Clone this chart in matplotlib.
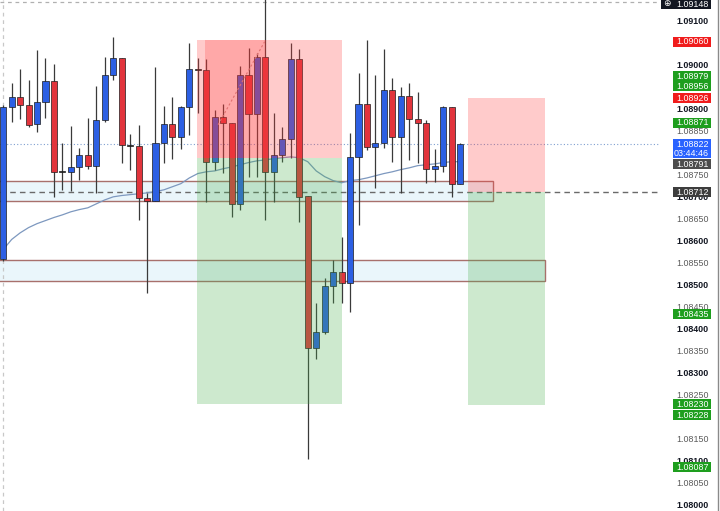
import matplotlib
matplotlib.use("Agg")
import matplotlib.pyplot as plt
from matplotlib.patches import Rectangle
from matplotlib.lines import Line2D

# ---------------- data ----------------
opens = [1.08561, 1.08907, 1.08930, 1.08911, 1.08868, 1.08918, 1.08966, 1.08760, 1.08759, 1.08770,
         1.08798, 1.08773, 1.08877, 1.08980, 1.09018, 1.08819, 1.08818, 1.08700, 1.08693, 1.08825,
         1.08868, 1.08839, 1.08907, 1.08992, 1.08991, 1.08782, 1.08884, 1.08870, 1.08686, 1.08980,
         1.08891, 1.09020, 1.08759, 1.08798, 1.08834, 1.09016, 1.08705, 1.08359, 1.08395, 1.08498,
         1.08530, 1.08507, 1.08793, 1.08914, 1.08816, 1.08825, 1.08945, 1.08839, 1.08932, 1.08880,
         1.08870, 1.08766, 1.08773, 1.08907, 1.08732]
highs = [1.08911, 1.08961, 1.08993, 1.08968, 1.09036, 1.09018, 1.09005, 1.08825, 1.08864, 1.08814,
         1.08882, 1.08955, 1.09020, 1.09066, 1.09018, 1.08845, 1.08866, 1.08711, 1.08998, 1.08909,
         1.08930, 1.08909, 1.09052, 1.09018, 1.09016, 1.08900, 1.08914, 1.08870, 1.09000, 1.09041,
         1.09030, 1.09173, 1.08893, 1.08861, 1.09052, 1.09039, 1.08705, 1.08461, 1.08518, 1.08559,
         1.08611, 1.08848, 1.08984, 1.09059, 1.08980, 1.09039, 1.08973, 1.08952, 1.08961, 1.08941,
         1.08877, 1.08811, 1.08909, 1.08907, 1.08825]
lows = [1.08555, 1.08873, 1.08880, 1.08861, 1.08850, 1.08882, 1.08702, 1.08718, 1.08716, 1.08741,
        1.08766, 1.08711, 1.08873, 1.08968, 1.08780, 1.08764, 1.08650, 1.08484, 1.08693, 1.08780,
        1.08789, 1.08811, 1.08843, 1.08893, 1.08691, 1.08764, 1.08757, 1.08655, 1.08673, 1.08748,
        1.08748, 1.08650, 1.08691, 1.08782, 1.08791, 1.08645, 1.08105, 1.08332, 1.08389, 1.08461,
        1.08461, 1.08441, 1.08639, 1.08809, 1.08723, 1.08814, 1.08782, 1.08711, 1.08786, 1.08780,
        1.08734, 1.08736, 1.08759, 1.08702, 1.08732]
closes = [1.08907, 1.08930, 1.08911, 1.08866, 1.08918, 1.08966, 1.08759, 1.08758, 1.08770, 1.08798,
          1.08773, 1.08877, 1.08980, 1.09018, 1.08820, 1.08818, 1.08700, 1.08693, 1.08825, 1.08868,
          1.08839, 1.08907, 1.08993, 1.08991, 1.08782, 1.08884, 1.08870, 1.08686, 1.08980, 1.08891,
          1.09020, 1.08759, 1.08798, 1.08834, 1.09016, 1.08702, 1.08359, 1.08395, 1.08498, 1.08530,
          1.08507, 1.08793, 1.08914, 1.08816, 1.08825, 1.08945, 1.08839, 1.08932, 1.08880, 1.08870,
          1.08766, 1.08773, 1.08907, 1.08732, 1.08822]
moving_avg = [1.08582, 1.08605, 1.08620, 1.08632, 1.08641, 1.08648, 1.08655, 1.08661, 1.08668, 1.08673,
              1.08677, 1.08686, 1.08695, 1.08702, 1.08705, 1.08707, 1.08709, 1.08711, 1.08714, 1.08718,
              1.08725, 1.08732, 1.08745, 1.08755, 1.08759, 1.08761, 1.08766, 1.08770, 1.08775, 1.08780,
              1.08784, 1.08786, 1.08789, 1.08791, 1.08793, 1.08791, 1.08782, 1.08761, 1.08748, 1.08739,
              1.08734, 1.08739, 1.08741, 1.08745, 1.08750, 1.08755, 1.08759, 1.08764, 1.08768, 1.08773,
              1.08775, 1.08777, 1.08780, 1.08782, 1.08782]

# position tools (short setups): start/end bar index, entry, stop, target
zone_start = [22.9, 54.94]
zone_end = [40.05, 64.04]
zone_entry = [1.08791, 1.08712]
zone_stop = [1.09060, 1.08926]
zone_target = [1.08230, 1.08228]

# support rectangles
box_end = [57.9, 64.04]
box_top = [1.08739, 1.08559]
box_bottom = [1.08693, 1.08511]

price_line = 1.08822
entry_line = 1.08712
top_line = 1.09146

# visible price-scale ticks (those fully hidden behind tags are omitted)
tick_labels = ["1.09100", "1.09050", "1.09000", "1.08900", "1.08850",
               "1.08750", "1.08700", "1.08650", "1.08600", "1.08550", "1.08500", "1.08450",
               "1.08400", "1.08350", "1.08300", "1.08250", "1.08150", "1.08100",
               "1.08050", "1.08000"]

tag_texts = ["1.09060", "1.08979", "1.08956", "1.08926", "1.08871", "1.08791", "1.08712",
             "1.08435", "1.08230", "1.08228", "1.08087"]
tag_colors = ["#f01c1c", "#1e9e1e", "#1e9e1e", "#f01c1c", "#1e9e1e", "#4d4d4d", "#3d3d3d",
              "#1e9e1e", "#1e9e1e", "#1e9e1e", "#1e9e1e"]
tag_shift_px = [2, 1, 1, 0, 0, 6, 0, 0, 0, 9.5, 0]

# ---------------- figure ----------------
W, H = 720, 511
fig = plt.figure(figsize=(W / 100, H / 100), dpi=100)
ax_right_px = 660
ax = fig.add_axes([0, 0, ax_right_px / W, 1])
ax.set_xlim(-0.378, 77.64)
ax.set_ylim(1.07987, 1.09150)
for s in ax.spines.values():
    s.set_visible(False)
ax.set_xticks([])
ax.set_yticks([])

n = len(opens)
xs = list(range(n))
UP = "#2c5fe3"
DN = "#e2343c"

# support boxes
for e, t, b in zip(box_end, box_top, box_bottom):
    ax.add_patch(Rectangle((-1, b), e + 1, t - b, facecolor="#eaf6fb", edgecolor="#a8706c",
                           linewidth=1.0, zorder=1))

# horizontal lines
ax.axhline(top_line, color="#b0b0b0", lw=0.9, ls=(0, (3, 3)), zorder=1)
ax.axhline(entry_line, color="#6a6a6a", lw=1.0, ls=(0, (4, 3)), zorder=1.5)
ax.axhline(price_line, color="#7f9fd0", lw=0.8, ls=(0, (1, 2)), zorder=1.5)
ax.axvline(0, color="#c8c8c8", lw=0.9, ls=(0, (3, 3)), zorder=1)

# moving average
ax.plot(xs, moving_avg, color="#7d98bf", lw=0.9, zorder=1.6)

# candles
ax.vlines(xs, lows, highs, color="#3a3a3a", lw=0.9, zorder=2)
min_h = 0.000025
for i in range(n):
    o, c = opens[i], closes[i]
    col = UP if c >= o else DN
    bot = min(o, c)
    h = abs(c - o)
    if h < min_h:
        bot = (o + c) / 2 - min_h / 2
        h = min_h
        col = "#222222"
    ax.add_patch(Rectangle((i - 0.36, bot), 0.72, h, facecolor=col, edgecolor="#1c1c1c",
                           linewidth=0.5, zorder=2.5))

# position overlays
for s, e, en, st, tg in zip(zone_start, zone_end, zone_entry, zone_stop, zone_target):
    ax.add_patch(Rectangle((s, en), e - s, st - en, facecolor="#ff4040", alpha=0.27,
                           edgecolor="none", zorder=3))
    ax.add_patch(Rectangle((s, tg), e - s, en - tg, facecolor="#4cb050", alpha=0.28,
                           edgecolor="none", zorder=3))
# darker overlapping short zone
ax.add_patch(Rectangle((23.85, zone_entry[0]), 31.06 - 23.85, zone_stop[0] - zone_entry[0],
                       facecolor="#ff3030", alpha=0.22, edgecolor="none", zorder=3))
ax.plot([25.4, 30.9], [1.08866, 1.09055], color="#e07070", lw=0.8, ls=(0, (2, 2)), zorder=3.2)

# ---------------- right price scale ----------------
ytr = ax.get_yaxis_transform()
lab_x_pt = (709 - ax_right_px) * 0.72
fs = 6.4
fam = ["Liberation Sans", "DejaVu Sans"]
for t in tick_labels:
    v = float(t)
    major = abs(round(v * 1000) - v * 1000) < 1e-6
    ax.annotate(t, xy=(1.0, v), xycoords=ytr, xytext=(lab_x_pt, 0), textcoords="offset points",
                ha="right", va="center", fontsize=fs, family=fam,
                color="#131722" if major else "#5a5a5a",
                fontweight="bold" if major else "normal", annotation_clip=False, zorder=5)


def price_to_disp(p):
    return ax.transData.transform((0, p))[1]


def tag(text, price, color, shift_px=0.0, height=10.0, x0=673, x1=711, z=3):
    yc = price_to_disp(price) - shift_px
    fig.add_artist(Rectangle((x0 / W, (yc - height / 2) / H), (x1 - x0) / W, height / H,
                             transform=fig.transFigure, facecolor=color, edgecolor="none",
                             zorder=z))
    fig.text(709 / W, (yc - 0.4) / H, text, ha="right", va="center", fontsize=fs, family=fam,
             color="white", zorder=z + 0.5, linespacing=1.0)


tag("1.08822\n03:44:46", price_line, "#2962ff", shift_px=4.5, height=19.5, z=3)
for t, c, d in zip(tag_texts, tag_colors, tag_shift_px):
    tag(t, float(t), c, shift_px=d, z=5)
tag("1.09148", top_line, "#131722", shift_px=2.0, height=9.5, x0=661, z=5)
fig.text(666.5 / W, 1 - 4 / H, "\u2295", ha="center", va="center", fontsize=6.5,
         family=["DejaVu Sans"], color="white", zorder=6)

# right border
fig.add_artist(Line2D([717.5 / W, 717.5 / W], [0, 1], color="#8a8a8a", lw=1.0))

fig.savefig("out.png", dpi=100, facecolor="white")
